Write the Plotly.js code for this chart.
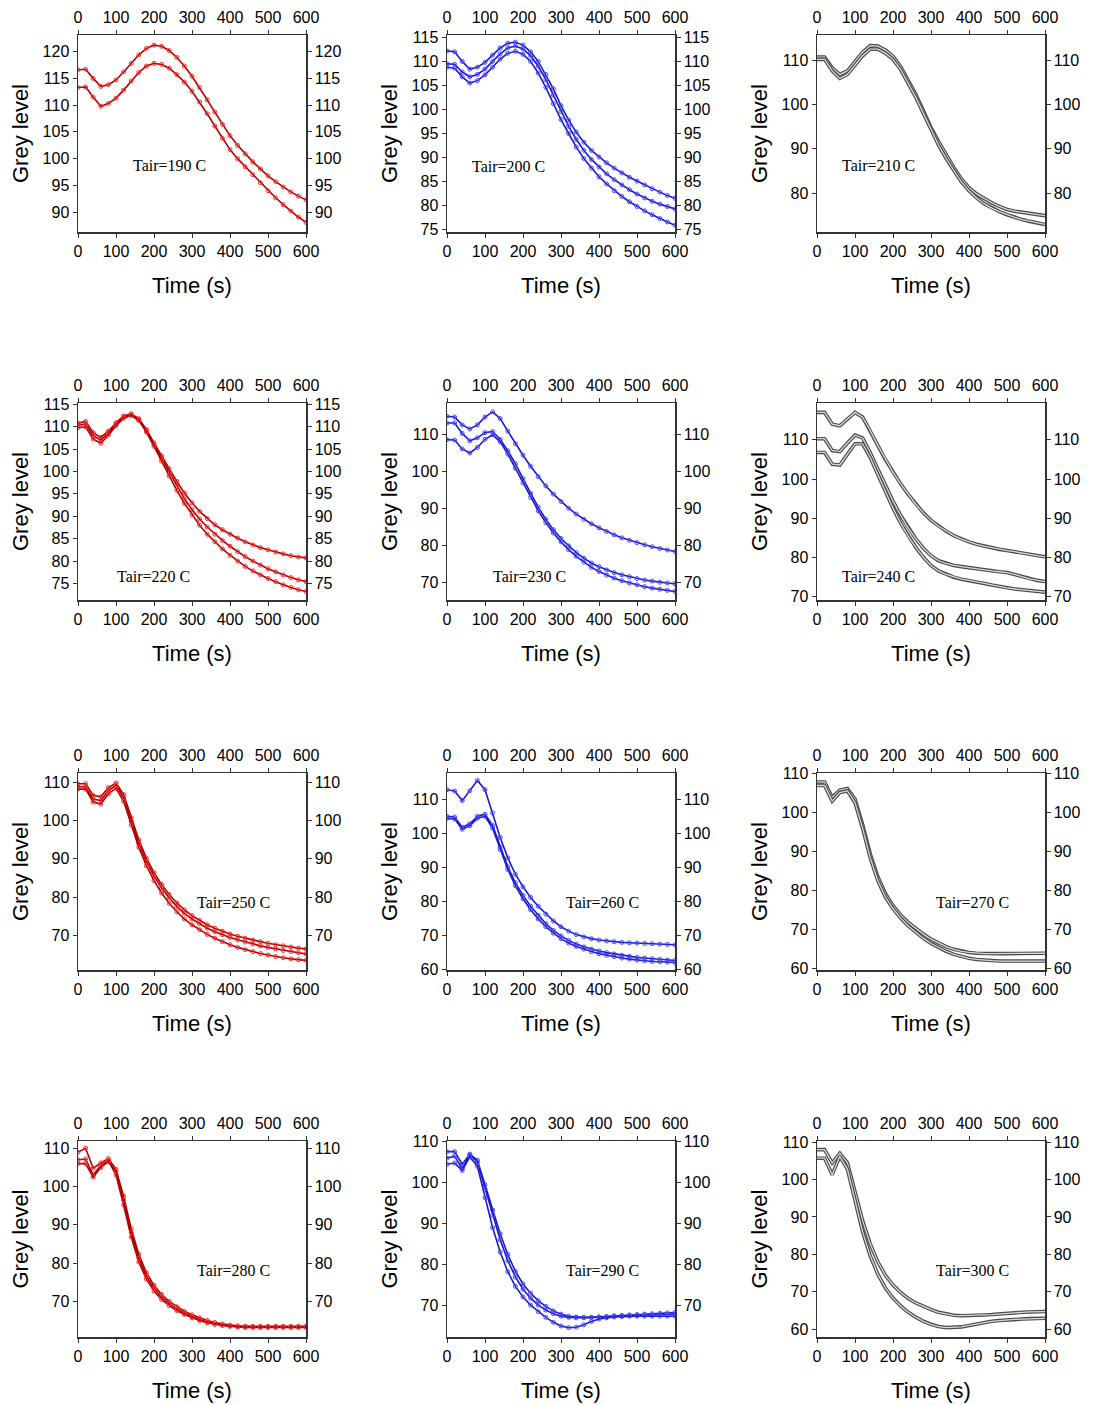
<!DOCTYPE html>
<html>
<head>
<meta charset="utf-8">
<script src="https://cdn.plot.ly/plotly-3.0.1.min.js"></script>
<style>html,body{margin:0;padding:0;background:#fff}</style>
</head>
<body>
<div id="chart" style="width:1095px;height:1405px"></div>
<script>
// ---------- DATA ----------
const time = [0,20,40,60,80,100,120,140,160,180,200,220,240,260,280,300,320,340,360,380,400,420,440,460,480,500,520,540,560,580,600];
const xTicks = [0,100,200,300,400,500,600];
const panelLabels = ['Tair=190 C','Tair=200 C','Tair=210 C','Tair=220 C','Tair=230 C','Tair=240 C',
                     'Tair=250 C','Tair=260 C','Tair=270 C','Tair=280 C','Tair=290 C','Tair=300 C'];

// 190 C
const g190a = [116.6,116.7,115.0,113.5,113.8,114.7,116.2,117.8,119.4,120.6,121.2,121.0,120.2,118.9,117.3,115.4,113.3,111.0,108.7,106.4,104.3,102.5,100.9,99.4,98.1,96.8,95.7,94.7,93.8,93.0,92.3];
const g190b = [113.3,113.4,111.5,109.8,110.3,111.3,112.8,114.5,116.1,117.3,117.8,117.6,116.9,115.7,114.3,112.6,110.6,108.4,106.1,103.8,101.7,100.0,98.5,97.0,95.5,94.0,92.7,91.4,90.2,89.1,88.1];
// 200 C
const g200a = [112.2,112.0,110.0,108.4,108.8,109.8,111.3,112.8,113.8,114.0,113.4,112.0,110.0,107.3,104.3,100.8,97.8,95.3,93.2,91.5,90.1,88.9,87.8,86.8,85.9,85.1,84.3,83.5,82.8,82.1,81.5];
const g200b = [109.5,109.4,107.8,106.8,107.3,108.4,110.0,111.6,112.8,113.2,112.6,111.2,109.0,106.2,103.0,99.6,96.5,93.8,91.5,89.6,88.0,86.6,85.4,84.3,83.3,82.4,81.6,80.9,80.3,79.8,79.3];
const g200c = [108.8,108.6,106.8,105.5,106.0,107.2,108.8,110.5,111.7,112.1,111.5,110.0,107.6,104.6,101.2,97.9,95.0,92.2,89.8,87.8,86.0,84.5,83.1,81.9,80.8,79.8,78.9,78.1,77.3,76.6,75.9];
// 210 C
const g210a = [110.7,110.7,108.3,106.8,107.6,109.6,111.8,113.3,113.2,112.3,110.9,108.6,105.6,102.3,98.6,94.8,91.6,88.6,85.8,83.2,81.2,79.8,78.7,77.8,77.0,76.3,75.9,75.6,75.3,75.1,74.9];
const g210b = [110.2,110.2,107.6,105.9,106.8,108.8,111.0,112.5,112.5,111.6,110.2,107.9,104.9,101.6,98.0,94.2,90.8,87.8,85.0,82.5,80.5,78.9,77.6,76.6,75.8,75.1,74.5,74.0,73.6,73.2,72.9];
// 220 C
const g220a = [110.8,111.2,108.7,107.6,109.0,110.9,112.4,112.9,111.8,109.4,106.4,103.5,100.6,97.8,95.2,93.0,91.1,89.5,88.1,87.0,86.0,85.1,84.3,83.6,83.0,82.5,82.0,81.6,81.2,80.9,80.7];
const g220b = [110.3,110.6,108.0,107.0,108.6,110.6,112.2,112.7,111.6,109.1,106.0,102.9,99.8,96.7,93.9,91.5,89.4,87.6,86.0,84.6,83.3,82.1,81.0,80.0,79.1,78.3,77.6,76.9,76.3,75.8,75.4];
const g220c = [109.8,110.0,107.2,106.3,108.1,110.2,111.9,112.5,111.4,108.8,105.6,102.3,99.0,95.8,92.9,90.3,88.0,86.0,84.3,82.7,81.3,80.0,78.8,77.8,76.9,76.1,75.4,74.7,74.1,73.6,73.2];
// 230 C
const g230a = [114.8,114.6,112.5,111.4,112.5,114.6,116.0,114.2,110.8,107.4,104.3,101.3,98.5,96.0,93.8,91.8,90.0,88.4,87.0,85.8,84.7,83.7,82.8,82.0,81.3,80.7,80.1,79.6,79.1,78.7,78.3];
const g230b = [113.0,113.0,110.2,108.2,109.0,110.4,110.7,108.6,105.5,102.0,98.0,94.0,90.3,87.0,84.2,81.8,79.8,78.0,76.5,75.2,74.2,73.3,72.6,72.0,71.5,71.0,70.6,70.3,70.0,69.8,69.6];
const g230c = [108.5,108.4,106.0,104.9,106.4,108.6,109.8,107.9,104.6,100.8,96.8,92.9,89.3,86.1,83.3,80.9,78.8,77.0,75.4,74.0,72.9,71.9,71.1,70.4,69.8,69.3,68.8,68.4,68.1,67.8,67.5];
// 240 C
const g240a = [117.0,117.0,114.0,113.6,115.3,117.0,115.8,112.4,108.6,105.0,101.8,98.8,96.1,93.6,91.4,89.5,88.0,86.7,85.6,84.7,84.0,83.4,82.9,82.5,82.1,81.8,81.5,81.1,80.8,80.5,80.2];
const g240b = [110.3,110.3,107.3,107.0,109.2,111.2,110.5,106.8,102.6,98.4,94.4,90.8,87.6,84.8,82.4,80.5,79.2,78.5,78.0,77.7,77.4,77.1,76.8,76.6,76.4,76.2,75.7,75.1,74.6,74.2,73.9];
const g240c = [106.8,106.8,103.8,103.6,106.3,109.0,109.0,105.5,101.2,96.8,92.6,88.8,85.5,82.6,80.1,78.0,76.6,75.7,75.0,74.5,74.2,73.8,73.4,73.0,72.6,72.3,72.0,71.8,71.6,71.4,71.2];
// 250 C
const g250a = [109.6,109.6,106.6,106.2,108.6,109.8,106.8,100.8,95.0,90.2,86.4,83.3,80.7,78.5,76.7,75.2,73.9,72.8,71.9,71.1,70.4,69.8,69.3,68.8,68.4,68.0,67.6,67.3,67.0,66.7,66.5];
const g250b = [108.8,108.8,105.6,105.2,107.8,109.2,106.0,99.8,94.0,89.3,85.5,82.4,79.8,77.6,75.8,74.3,73.0,71.9,71.0,70.2,69.5,68.9,68.3,67.8,67.3,66.9,66.5,66.1,65.8,65.5,65.2];
const g250c = [108.2,108.2,104.8,104.3,107.0,108.4,105.0,98.8,93.0,88.2,84.3,81.1,78.4,76.2,74.3,72.8,71.5,70.3,69.3,68.4,67.6,66.9,66.3,65.8,65.3,64.9,64.5,64.2,63.9,63.7,63.5];
// 260 C
const g260a = [112.8,112.4,109.6,112.5,115.5,112.8,106.0,98.8,92.8,88.0,84.3,81.2,78.6,76.3,74.3,72.6,71.3,70.3,69.6,69.1,68.7,68.4,68.2,68.0,67.9,67.8,67.7,67.6,67.5,67.4,67.3];
const g260b = [105.0,104.8,101.8,102.8,105.0,105.6,102.3,96.0,90.2,85.5,81.8,78.6,75.9,73.5,71.5,69.9,68.6,67.5,66.7,66.0,65.5,65.0,64.6,64.2,63.9,63.6,63.4,63.2,63.0,62.8,62.7];
const g260c = [104.4,104.2,101.2,102.2,104.4,105.0,101.5,95.2,89.4,84.6,80.8,77.6,74.9,72.6,70.7,69.1,67.8,66.8,66.0,65.3,64.7,64.2,63.8,63.4,63.1,62.8,62.6,62.4,62.3,62.2,62.1];
// 270 C
const g270a = [107.9,107.9,104.0,105.8,106.2,103.5,97.0,89.5,83.6,79.3,76.2,73.8,71.9,70.3,68.9,67.6,66.6,65.7,65.0,64.5,64.2,64.0,63.9,63.9,63.9,63.9,63.9,63.9,63.9,64.0,64.0];
const g270b = [107.0,107.0,103.0,105.2,105.6,102.6,96.0,88.5,82.6,78.4,75.4,73.0,71.0,69.3,67.8,66.5,65.4,64.5,63.7,63.1,62.7,62.4,62.2,62.1,62.0,62.0,62.0,62.0,62.0,62.0,62.0];
// 280 C
const g280a = [109.0,110.0,104.8,106.2,107.3,104.5,97.5,89.0,82.3,77.5,74.2,71.8,70.0,68.6,67.4,66.5,65.7,65.0,64.5,64.1,63.8,63.6,63.5,63.5,63.5,63.5,63.5,63.5,63.5,63.5,63.5];
const g280b = [107.0,107.2,103.0,105.6,106.8,103.0,95.2,86.8,80.3,75.8,72.7,70.5,68.9,67.6,66.6,65.7,65.0,64.4,64.0,63.7,63.5,63.3,63.2,63.2,63.2,63.2,63.2,63.2,63.2,63.2,63.2];
const g280c = [106.0,106.0,102.5,105.0,106.5,104.0,96.5,88.0,81.3,76.6,73.4,71.1,69.4,68.0,66.9,66.0,65.2,64.6,64.1,63.8,63.6,63.4,63.3,63.3,63.3,63.3,63.3,63.3,63.3,63.3,63.3];
// 290 C
const g290a = [107.6,107.6,104.5,107.0,105.5,99.5,93.3,87.5,82.4,78.3,75.2,72.9,71.1,69.7,68.6,67.8,67.3,67.1,67.0,67.0,67.1,67.2,67.4,67.5,67.6,67.7,67.8,67.9,68.0,68.1,68.2];
const g290b = [106.0,106.5,103.4,106.8,105.0,98.5,92.0,86.0,80.9,76.9,73.9,71.7,70.0,68.8,67.9,67.3,67.0,66.9,66.9,67.0,67.1,67.2,67.3,67.4,67.5,67.5,67.6,67.6,67.7,67.7,67.8];
const g290c = [104.5,104.8,103.0,106.3,104.0,96.3,89.0,83.0,78.2,74.6,72.0,70.0,68.4,67.0,65.8,64.9,64.5,64.6,65.2,66.0,66.6,66.9,67.1,67.2,67.3,67.3,67.3,67.3,67.3,67.3,67.3];
// 300 C
const g300a = [108.0,108.0,104.4,107.0,104.5,96.5,89.0,82.8,78.0,74.4,71.8,69.8,68.2,67.0,66.0,65.2,64.5,64.0,63.7,63.6,63.6,63.7,63.8,63.9,64.1,64.2,64.4,64.5,64.6,64.6,64.7];
const g300b = [105.7,105.7,101.3,106.2,102.8,94.0,86.0,79.6,74.7,71.0,68.3,66.2,64.5,63.2,62.1,61.3,60.7,60.4,60.4,60.6,61.0,61.4,61.8,62.1,62.3,62.5,62.6,62.7,62.8,62.9,62.9];

const panelSeries = [
  [g190a,g190b],[g200a,g200b,g200c],[g210a,g210b],
  [g220a,g220b,g220c],[g230a,g230b,g230c],[g240a,g240b,g240c],
  [g250a,g250b,g250c],[g260a,g260b,g260c],[g270a,g270b],
  [g280a,g280b,g280c],[g290a,g290b,g290c],[g300a,g300b]
];

// ---------- LAYOUT / STYLE ----------
const W = 1095, H = 1405;
const colPx = [[78,306],[447,675],[817,1045]];
const rowPx = [[35,232],[403,600],[773,970],[1141,1337]];
const yRanges = [[86.3,123.1],[74.5,115.5],[71.2,115.7],
                 [71.3,115.3],[65.2,118.4],[69.2,119.4],
                 [61.0,112.4],[59.9,117.7],[59.7,110.2],
                 [60.7,111.9],[62.2,110.2],[57.9,110.3]];
const yDticks = [5,5,10, 5,10,10, 10,10,10, 10,10,10];
const annPos = [[0.40,0.34],[0.27,0.335],[0.27,0.34],
                [0.33,0.117],[0.36,0.117],[0.27,0.117],
                [0.68,0.345],[0.68,0.345],[0.68,0.345],
                [0.68,0.34],[0.68,0.34],[0.68,0.34]];
const styles = ['red','blue','grey'];

const sans = 'Liberation Sans, Arial, sans-serif';
const tickFont = {family: sans, size: 16, color: '#000'};
const titleFont = {family: sans, size: 22, color: '#000'};
const axLine = '#333';

const traces = [];
const layout = {
  width: W, height: H,
  margin: {l:0, r:0, t:0, b:0},
  paper_bgcolor: '#fff', plot_bgcolor: '#fff',
  showlegend: false,
  annotations: []
};

function seriesTraces(yv, style, xa, ya) {
  if (style === 'grey') {
    return [
      {x: time, y: yv, xaxis: xa, yaxis: ya, type: 'scatter', mode: 'lines',
       line: {color: '#4a4a4a', width: 3.6}, hoverinfo: 'skip'},
      {x: time, y: yv, xaxis: xa, yaxis: ya, type: 'scatter', mode: 'lines',
       line: {color: '#d8d8d8', width: 1.3}, hoverinfo: 'skip'}
    ];
  }
  if (style === 'red') {
    return [{x: time, y: yv, xaxis: xa, yaxis: ya, type: 'scatter', mode: 'lines+markers',
      line: {color: '#b00000', width: 1.6},
      marker: {symbol: 'circle-open', size: 4, color: '#ff2a2a', line: {width: 1}}, hoverinfo: 'skip'}];
  }
  return [{x: time, y: yv, xaxis: xa, yaxis: ya, type: 'scatter', mode: 'lines+markers',
    line: {color: '#1a1acc', width: 1.6},
    marker: {symbol: 'circle-open', size: 4, color: '#4848ff', line: {width: 1}}, hoverinfo: 'skip'}];
}

panelSeries.forEach((series, k) => {
  const n = k + 1;
  const r = Math.floor(k / 3), c = k % 3;
  const xid = n === 1 ? 'x' : 'x' + n;
  const yid = n === 1 ? 'y' : 'y' + n;
  const xTop = 'x' + (n + 12), yRight = 'y' + (n + 12);
  const xKey = n === 1 ? 'xaxis' : 'xaxis' + n;
  const yKey = n === 1 ? 'yaxis' : 'yaxis' + n;
  const xdom = [colPx[c][0] / W, colPx[c][1] / W];
  const ydom = [1 - rowPx[r][1] / H, 1 - rowPx[r][0] / H];
  const style = styles[c];

  const commonX = {
    range: [0, 600], tickmode: 'array', tickvals: xTicks,
    showline: true, linecolor: axLine, linewidth: 1.5,
    ticks: 'outside', ticklen: 4, tickcolor: axLine,
    tickfont: tickFont, showgrid: false, zeroline: false, fixedrange: true
  };
  const commonY = {
    range: yRanges[k], dtick: yDticks[k], tick0: 0,
    showline: true, linecolor: axLine, linewidth: 1.5,
    ticks: 'outside', ticklen: 4, tickcolor: axLine,
    tickfont: tickFont, showgrid: false, zeroline: false, fixedrange: true
  };

  layout[xKey] = Object.assign({}, commonX, {
    domain: xdom, anchor: yid, side: 'bottom',
    title: {text: 'Time (s)', font: titleFont, standoff: 19}
  });
  layout['xaxis' + (n + 12)] = Object.assign({}, commonX, {
    anchor: yRight, overlaying: xid, side: 'top'
  });
  layout[yKey] = Object.assign({}, commonY, {
    domain: ydom, anchor: xid, side: 'left',
    title: {text: 'Grey level', font: titleFont, standoff: 8}
  });
  layout['yaxis' + (n + 12)] = Object.assign({}, commonY, {
    anchor: xTop, overlaying: yid, side: 'right'
  });

  series.forEach((yv, i) => {
    const last = i === series.length - 1;
    seriesTraces(yv, style, last ? xTop : xid, last ? yRight : yid).forEach(t => traces.push(t));
  });

  layout.annotations.push({
    xref: xid + ' domain', yref: yid + ' domain',
    x: annPos[k][0], y: annPos[k][1], xanchor: 'center', yanchor: 'middle',
    text: panelLabels[k], showarrow: false,
    font: {family: 'Liberation Serif, Times New Roman, serif', size: 16, color: '#000'}
  });
});

Plotly.newPlot('chart', traces, layout, {displayModeBar: false, staticPlot: true});
</script>
</body>
</html>
